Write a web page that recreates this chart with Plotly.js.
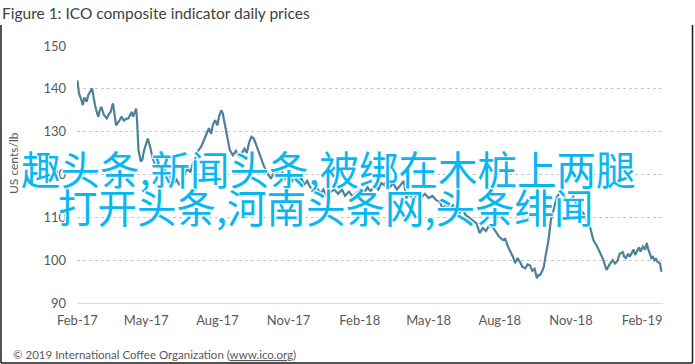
<!DOCTYPE html>
<html>
<head>
<meta charset="utf-8">
<script src="https://cdn.plot.ly/plotly-3.0.1.min.js"></script>
<style>html,body{margin:0;padding:0;background:#fff;}#chart{width:695px;height:364px;}</style>
</head>
<body>
<div id="chart"></div>
<script>
const titleText = "Figure 1: ICO composite indicator daily prices";
const yAxisLabel = "US cents/lb";
const footerText = "© 2019 International Coffee Organization (<span style=\"text-decoration:underline\">www.ico.org</span>)";
const overlayLine1 = "趣头条,新闻头条,被绑在木桩上两腿";
const overlayLine2 = "打开头条,河南头条网,头条绯闻";

const dates = [
"2017-02-01","2017-02-02","2017-02-03","2017-02-06","2017-02-08","2017-02-10","2017-02-13","2017-02-15","2017-02-17","2017-02-20",
"2017-02-22","2017-02-24","2017-02-27","2017-02-28","2017-03-02","2017-03-04","2017-03-07","2017-03-09","2017-03-11","2017-03-14",
"2017-03-16","2017-03-19","2017-03-21","2017-03-23","2017-03-27","2017-03-30","2017-04-02","2017-04-05","2017-04-08","2017-04-10",
"2017-04-12","2017-04-14","2017-04-16","2017-04-18","2017-04-19","2017-04-20","2017-04-21","2017-04-24","2017-04-26","2017-04-28",
"2017-05-01","2017-05-03","2017-05-06","2017-05-09","2017-05-12","2017-05-16","2017-05-19","2017-05-23","2017-05-26","2017-05-30",
"2017-06-02","2017-06-06","2017-06-09","2017-06-13","2017-06-16","2017-06-20","2017-06-23","2017-06-27","2017-06-30","2017-07-04",
"2017-07-07","2017-07-11","2017-07-13","2017-07-15","2017-07-19","2017-07-21","2017-07-24","2017-07-26","2017-07-29","2017-08-01",
"2017-08-03","2017-08-06","2017-08-08","2017-08-11","2017-08-14","2017-08-17","2017-08-21","2017-08-25","2017-08-29","2017-09-01",
"2017-09-05","2017-09-08","2017-09-11","2017-09-14","2017-09-17","2017-09-21","2017-09-25","2017-09-27","2017-09-30","2017-10-04",
"2017-10-09","2017-10-12","2017-10-16","2017-10-20","2017-10-24","2017-10-28","2017-11-01","2017-11-06","2017-11-10","2017-11-14",
"2017-11-17","2017-11-21","2017-11-25","2017-11-29","2017-12-04","2017-12-08","2017-12-12","2017-12-16","2017-12-20","2017-12-26",
"2017-12-30","2018-01-04","2018-01-09","2018-01-13","2018-01-18","2018-01-23","2018-01-27","2018-02-01","2018-02-06","2018-02-11",
"2018-02-15","2018-02-20","2018-02-25","2018-03-01","2018-03-05","2018-03-08","2018-03-12","2018-03-16","2018-03-21","2018-03-26",
"2018-03-30","2018-04-02","2018-04-06","2018-04-11","2018-04-16","2018-04-21","2018-04-26","2018-05-01","2018-05-06","2018-05-11",
"2018-05-16","2018-05-19","2018-05-23","2018-05-28","2018-06-02","2018-06-06","2018-06-10","2018-06-14","2018-06-18","2018-06-22",
"2018-06-26","2018-07-02","2018-07-06","2018-07-10","2018-07-14","2018-07-18","2018-07-23","2018-07-27","2018-07-31","2018-08-05",
"2018-08-08","2018-08-12","2018-08-15","2018-08-18","2018-08-21","2018-08-24","2018-08-27","2018-08-30","2018-09-03","2018-09-06",
"2018-09-09","2018-09-12","2018-09-15","2018-09-18","2018-09-20","2018-09-22","2018-09-25","2018-09-27","2018-09-29","2018-10-03",
"2018-10-06","2018-10-10","2018-10-14","2018-10-17","2018-10-19","2018-10-23","2018-10-27","2018-10-31","2018-11-04","2018-11-08",
"2018-11-13","2018-11-17","2018-11-21","2018-11-26","2018-11-30","2018-12-04","2018-12-09","2018-12-13","2018-12-17","2018-12-19",
"2018-12-21","2018-12-25","2018-12-28","2018-12-31","2019-01-03","2019-01-07","2019-01-09","2019-01-11","2019-01-14","2019-01-16",
"2019-01-19","2019-01-21","2019-01-23","2019-01-26","2019-01-28","2019-01-30","2019-02-02","2019-02-05","2019-02-07","2019-02-09",
"2019-02-11","2019-02-13","2019-02-15","2019-02-17","2019-02-19","2019-02-21","2019-02-24","2019-02-26"
];

const prices = [
142.0,140.5,139.0,137.5,136.2,138.0,137.0,138.5,139.2,140.1,
138.0,136.0,134.0,133.5,135.0,135.8,134.0,133.5,133.1,134.2,
134.6,136.6,134.0,131.5,132.5,133.5,132.6,133.0,133.1,134.0,
134.6,133.5,134.5,135.4,133.0,128.0,125.7,123.0,123.5,125.5,
127.6,128.4,126.5,124.0,122.5,123.5,121.5,122.0,120.5,119.0,
119.5,118.0,118.8,117.5,118.5,120.0,121.5,120.5,122.5,124.0,
125.5,126.5,127.3,128.4,130.0,130.8,129.5,131.5,132.7,131.5,
133.5,135.0,134.2,131.1,128.0,125.7,124.5,125.5,124.0,125.0,
126.0,125.0,127.5,128.8,128.4,126.5,124.5,123.4,122.0,120.5,
119.0,120.0,121.0,119.5,120.5,119.0,120.0,118.5,119.5,118.0,
119.4,117.5,118.5,117.0,116.0,116.8,115.5,116.5,115.0,116.0,
116.5,115.5,116.5,115.0,116.0,114.8,115.5,116.5,115.5,117.0,
116.0,117.5,116.5,118.0,117.5,119.0,117.0,118.0,116.5,117.5,
118.5,114.5,115.5,114.0,115.5,114.5,115.5,114.5,115.0,114.0,
113.5,112.0,113.0,112.0,112.8,111.5,111.0,112.0,110.5,110.0,
109.5,108.6,106.3,107.5,106.8,108.0,107.7,106.5,105.5,104.7,
105.0,103.0,102.0,100.8,99.3,100.5,99.6,98.5,98.1,99.0,
98.8,97.5,98.0,95.8,96.5,96.5,97.5,98.5,100.8,104.7,
109.3,112.0,114.8,115.5,116.4,115.0,113.3,114.0,114.8,113.0,
111.7,111.0,109.3,107.5,104.7,103.5,101.6,100.0,97.7,98.5,
99.0,100.0,99.2,99.8,101.5,101.9,100.8,100.5,101.5,100.8,
102.0,102.5,101.2,102.3,103.0,102.0,103.2,102.5,104.0,102.5,
101.5,100.5,100.8,100.0,100.3,99.6,99.3,97.3
];

const yTicks = [90, 100, 110, 120, 130, 140, 150];

// plot area in pixels
const W = 695, H = 364;
const PL = 77, PR = 663, PT = 46, PB = 303;
const px = x => (x - PL) / (PR - PL);
const py = y => (PB - y) / (PB - PT);

const trace = {
  x: dates, y: prices, type: 'scatter', mode: 'lines',
  line: {color: '#4d8199', width: 2.2},
  hoverinfo: 'skip'
};

const borderLine = {color: '#1a1a1a', width: 1.5};
const cjkFont = {family: '"Noto Sans CJK SC", sans-serif', size: 39.5, color: '#08b6f0',
  shadow: '1px 1px 1px #fff, -1px -1px 1px #fff, 1px -1px 1px #fff, -1px 1px 1px #fff'};

const layout = {
  width: W, height: H,
  margin: {l: PL, r: W - PR, t: PT, b: H - PB, pad: 0},
  paper_bgcolor: '#ffffff', plot_bgcolor: '#ffffff',
  showlegend: false,
  font: {family: 'Lato, "Open Sans", sans-serif', color: '#595959'},
  title: {
    text: titleText,
    xref: 'container', yref: 'container',
    x: 2 / W, xanchor: 'left',
    y: 1 - 14 / H, yanchor: 'middle',
    font: {family: 'Lato, sans-serif', size: 15.5, color: '#404040'}
  },
  xaxis: {
    type: 'date',
    range: ['2017-01-31 12:00', '2019-02-28'],
    tick0: '2017-02-01', dtick: 'M3', tickformat: '%b-%y',
    showgrid: false, zeroline: false,
    showline: true, linecolor: '#d9d9d9', linewidth: 1,
    ticks: '', ticklabelstandoff: 5,
    tickfont: {size: 13, color: '#595959'}
  },
  yaxis: {
    range: [90, 150],
    tickvals: yTicks, ticktext: yTicks.map(String),
    showgrid: true, gridcolor: '#c6c6c6', griddash: 'dot', gridwidth: 1,
    zeroline: false, showline: false,
    ticks: '', ticklabelstandoff: 10,
    tickfont: {size: 13, color: '#595959'}
  },
  annotations: [
    {text: yAxisLabel, xref: 'paper', yref: 'paper', x: px(13), y: py(163),
     xanchor: 'center', yanchor: 'middle', textangle: -90, showarrow: false,
     font: {size: 12, color: '#595959'}},
    {text: footerText, xref: 'paper', yref: 'paper', x: px(11), y: py(354),
     xanchor: 'left', yanchor: 'middle', showarrow: false,
     font: {size: 11.5, color: '#595959'}},
    {text: overlayLine1, xref: 'paper', yref: 'paper', x: px(19), y: py(167),
     xanchor: 'left', yanchor: 'middle', showarrow: false, font: cjkFont},
    {text: overlayLine2, xref: 'paper', yref: 'paper', x: px(56), y: py(205),
     xanchor: 'left', yanchor: 'middle', showarrow: false, font: cjkFont}
  ],
  shapes: [
    {type: 'line', xref: 'paper', yref: 'paper', x0: px(1), x1: px(1), y0: py(25), y1: py(363), line: borderLine},
    {type: 'line', xref: 'paper', yref: 'paper', x0: px(692.5), x1: px(692.5), y0: py(25), y1: py(363), line: borderLine},
    {type: 'line', xref: 'paper', yref: 'paper', x0: px(1), x1: px(692.5), y0: py(363), y1: py(363), line: borderLine}
  ]
};

Plotly.newPlot('chart', [trace], layout, {displayModeBar: false, staticPlot: true});
</script>
</body>
</html>
